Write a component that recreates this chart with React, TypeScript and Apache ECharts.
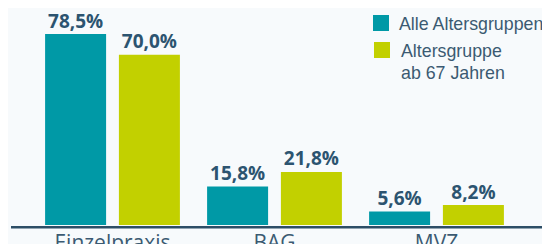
import React, { useEffect, useRef } from "react";
import * as echarts from "echarts";

const categories = ["Einzelpraxis", "BAG", "MVZ"];
const seriesNames = ["Alle Altersgruppen", "Altersgruppe\nab 67 Jahren"];
const allAges = [78.5, 15.8, 5.6];
const age67 = [70.0, 21.8, 8.2];

const TEAL = "#0099a6";
const LIME = "#c2d000";
const DARK = "#2c5470";
const TEXT = "#3b5a72";

const fmt = (v: number) => v.toFixed(1).replace(".", ",") + "%";

export default function App() {
  const ref = useRef<HTMLDivElement>(null);
  useEffect(() => {
    if (!ref.current) return;
    const chart = echarts.init(ref.current, null, { renderer: "svg" });
    const label = {
      show: true,
      position: "top" as const,
      distance: 4,
      color: DARK,
      fontFamily: "Open Sans",
      fontWeight: "bold" as const,
      fontSize: 19,
      formatter: (p: any) => fmt(p.value),
    };
    chart.setOption({
      animation: false,
      backgroundColor: "#f7fafc",
      grid: { left: 31.5, width: 486, top: 30.4, height: 195.6 },
      xAxis: {
        type: "category",
        data: categories,
        axisLine: { show: false },
        axisTick: { show: false },
        axisLabel: {
          color: TEXT,
          fontFamily: "Open Sans",
          fontSize: 21,
          lineHeight: 16,
          margin: 8.5,
        },
      },
      yAxis: {
        type: "value",
        min: 0,
        max: 80,
        show: false,
        splitLine: { show: false },
      },
      legend: { show: false },
      series: [
        {
          name: seriesNames[0],
          type: "bar",
          data: allAges,
          barWidth: 61,
          barGap: "21%",
          itemStyle: { color: TEAL },
          label,
        },
        {
          name: seriesNames[1],
          type: "bar",
          data: age67,
          barWidth: 61,
          itemStyle: { color: LIME },
          label,
        },
      ],
      graphic: [
        {
          type: "line",
          shape: { x1: 11, y1: 227.3, x2: 542, y2: 227.3 },
          style: { stroke: "#2d4e66", lineWidth: 2.5 },
          z: 10,
        },
        { type: "rect", shape: { x: 373, y: 15, width: 16, height: 16 }, style: { fill: TEAL } },
        {
          type: "text",
          x: 399,
          y: 12.5,
          style: {
            text: seriesNames[0],
            fill: TEXT,
            font: "17.8px 'Liberation Sans', Arial, sans-serif",
            lineHeight: 22,
          },
        },
        { type: "rect", shape: { x: 374, y: 42, width: 16, height: 16 }, style: { fill: LIME } },
        {
          type: "text",
          x: 401,
          y: 40,
          style: {
            text: seriesNames[1],
            fill: TEXT,
            font: "17.8px 'Liberation Sans', Arial, sans-serif",
            lineHeight: 22,
          },
        },
      ],
    });
    return () => chart.dispose();
  }, []);
  return (
    <div style={{ margin: -8 }}>
      <div ref={ref} style={{ width: 550, height: 252 }} />
    </div>
  );
}
